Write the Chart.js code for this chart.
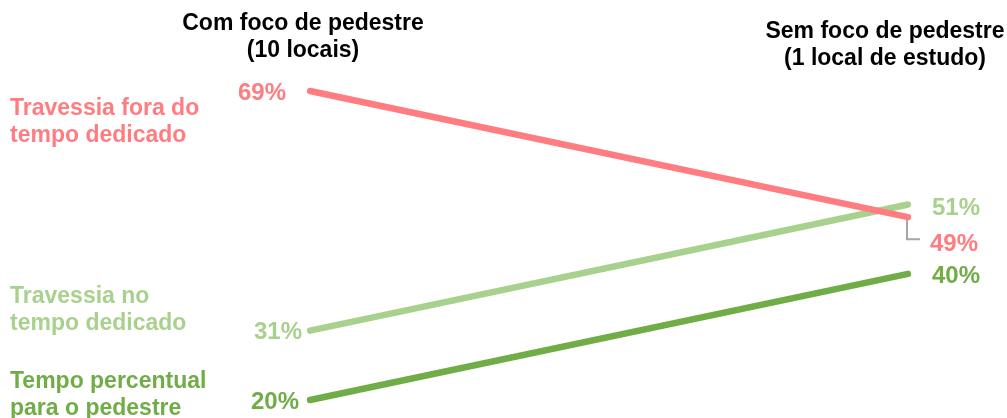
<!DOCTYPE html>
<html>
<head>
<meta charset="utf-8">
<script src="https://cdn.jsdelivr.net/npm/chart.js@4.4.1/dist/chart.umd.min.js"></script>
<style>
  html, body { margin: 0; padding: 0; background: #fff; }
  #wrap { width: 1007px; height: 418px; }
</style>
</head>
<body>
<div id="wrap"><canvas id="slopeChart" width="1007" height="418"></canvas></div>
<script>
// columns (left / right)
const columns = ['Com foco de pedestre', 'Sem foco de pedestre'];
const columnNotes = ['(10 locais)', '(1 local de estudo)'];

// series values in %
const foraDoTempo = [69, 49];
const noTempo = [31, 51];
const tempoPedestre = [20, 40];

const seriesNames = [
    ['Travessia fora do', 'tempo dedicado'],
    ['Travessia no', 'tempo dedicado'],
    ['Tempo percentual', 'para o pedestre']
];

const colors = ['#ff7c80', '#a9d18e', '#70ad47'];
const FONT = '"Liberation Sans", Arial, sans-serif';

// label placement (pixels relative to the data points)
const nameOffsetY = [31, -21, -5];
const leftValueGap = [24, 8, 11];
const rightValueDY = [25, 2, 0];

const labelPlugin = {
    id: 'slopeLabels',
    afterDatasetsDraw(chart) {
        const ctx = chart.ctx;
        const xs = chart.scales.x;
        ctx.save();
        ctx.textBaseline = 'middle';

        // column headers
        ctx.fillStyle = '#000';
        ctx.font = 'bold 23px ' + FONT;
        ctx.textAlign = 'center';
        const hx = [xs.getPixelForValue(0) - 7, xs.getPixelForValue(1) - 23];
        const hy = [24, 32];
        columns.forEach((c, i) => {
            ctx.fillText(c, hx[i], hy[i]);
            ctx.fillText(columnNotes[i], hx[i], hy[i] + 27);
        });

        chart.data.datasets.forEach((ds, i) => {
            const meta = chart.getDatasetMeta(i);
            const p0 = meta.data[0];
            const p1 = meta.data[1];
            ctx.fillStyle = colors[i];

            // series name on the far left
            ctx.font = 'bold 23px ' + FONT;
            ctx.textAlign = 'left';
            const ny = p0.y + nameOffsetY[i];
            ctx.fillText(seriesNames[i][0], 10, ny - 13);
            ctx.fillText(seriesNames[i][1], 10, ny + 14);

            // values
            ctx.font = 'bold 24px ' + FONT;
            ctx.textAlign = 'right';
            ctx.fillText(ds.data[0] + '%', p0.x - leftValueGap[i], p0.y + 2);
            ctx.textAlign = 'left';
            const rx = rightValueDY[i] > 10 ? p1.x + 22 : p1.x + 24;
            ctx.fillText(ds.data[1] + '%', rx, p1.y + rightValueDY[i] + 2);

            // leader for the shifted label
            if (rightValueDY[i] > 10) {
                ctx.strokeStyle = '#a6a6a6';
                ctx.lineWidth = 2;
                ctx.beginPath();
                ctx.moveTo(p1.x - 1, p1.y + 2);
                ctx.lineTo(p1.x - 1, p1.y + rightValueDY[i] - 3);
                ctx.lineTo(p1.x + 12, p1.y + rightValueDY[i] - 3);
                ctx.stroke();
            }
        });
        ctx.restore();
    }
};

function makeSet(values, color) {
    return {
        data: values,
        borderColor: color,
        backgroundColor: color,
        borderWidth: 6.5,
        borderCapStyle: 'round',
        pointRadius: 0,
        tension: 0,
        fill: false
    };
}

const ctx = document.getElementById('slopeChart').getContext('2d');
const slopeChart = new Chart(ctx, {
    type: 'line',
    data: {
        labels: columns,
        datasets: [
            makeSet(foraDoTempo, colors[0]),
            makeSet(noTempo, colors[1]),
            makeSet(tempoPedestre, colors[2])
        ]
    },
    options: {
        responsive: false,
        animation: false,
        layout: { padding: { left: 310, right: 99, top: 59.5, bottom: 5.4 } },
        plugins: { legend: { display: false }, tooltip: { enabled: false } },
        scales: {
            x: { type: 'category', offset: false, display: false },
            y: { min: 18, max: 74, display: false }
        }
    },
    plugins: [labelPlugin]
});
</script>
</body>
</html>
